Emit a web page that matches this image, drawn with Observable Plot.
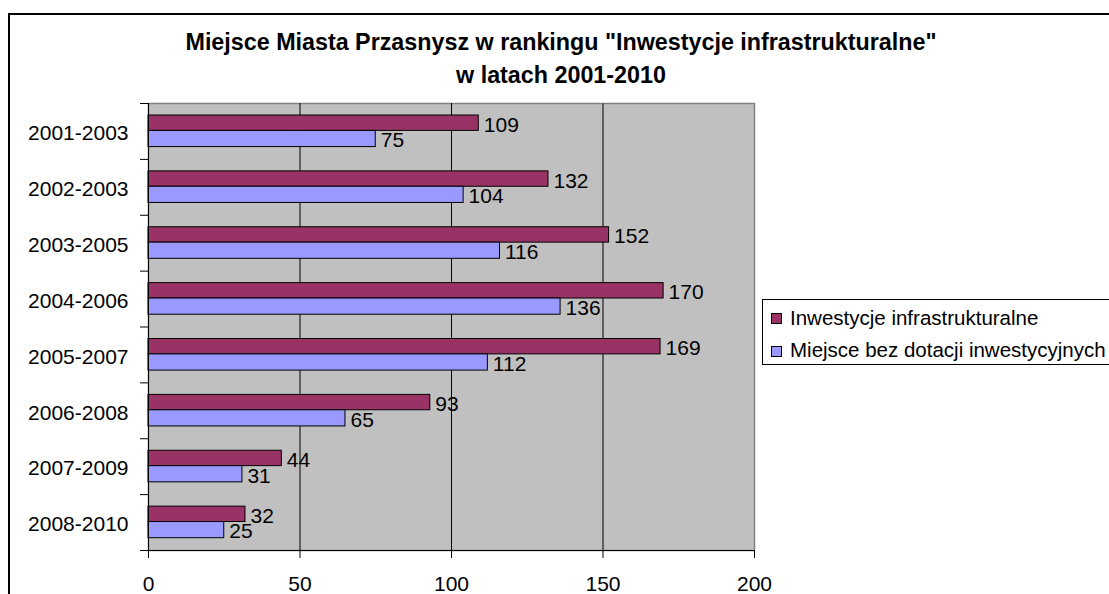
<!DOCTYPE html>
<html><head><meta charset="utf-8">
<script src="https://cdn.jsdelivr.net/npm/d3@7"></script>
<script src="https://cdn.jsdelivr.net/npm/@observablehq/plot@0.6"></script>
<style>
html,body{margin:0;padding:0;background:#fff;overflow:hidden;}
#wrap{position:relative;width:1109px;height:594px;overflow:hidden;font-family:"Liberation Sans",Arial,sans-serif;color:#000;}
#chart{position:absolute;left:0;top:0;}
#title{position:absolute;left:0;top:25.5px;width:1122px;text-align:center;font-weight:bold;font-size:23.3px;line-height:33px;white-space:nowrap;}
#legend{position:absolute;left:762px;top:299px;width:420px;height:64px;border:1px solid #000;background:#fff;}
.sw{position:absolute;left:7.7px;width:9px;height:9px;border:1px solid #000;}
.lt{position:absolute;left:27px;font-size:20.5px;line-height:21px;white-space:nowrap;}
#bl{position:absolute;left:8px;top:13px;width:2px;height:600px;background:#000;}
#bt{position:absolute;left:8px;top:13px;width:1200px;height:2px;background:#000;}
</style></head>
<body>
<div id="wrap">
  <div id="bl"></div>
  <div id="bt"></div>
  <div id="chart"></div>
  <div id="title">Miejsce Miasta Przasnysz w rankingu "Inwestycje infrastrukturalne"<br>w latach 2001-2010</div>
  <div id="legend"></div>
</div>
<script>
const categories = ["2001-2003","2002-2003","2003-2005","2004-2006","2005-2007","2006-2008","2007-2009","2008-2010"];
const infraValues = [109,132,152,170,169,93,44,32];
const bezDotacjiValues = [75,104,116,136,112,65,31,25];
const seriesNames = ["Inwestycje infrastrukturalne","Miejsce bez dotacji inwestycyjnych"];
const seriesColors = ["#993366","#9999ff"];
const xTicks = [0,50,100,150,200];
const gridBlack = [50,100];
const gridGray = [150];

const data = categories.map((c,i)=>({cat:c, infra:infraValues[i], bez:bezDotacjiValues[i]}));

const H = 594, mTop = 103, mBottom = 44;
const band = (H - mTop - mBottom) / categories.length;

const chart = Plot.plot({
  width: 1109, height: H,
  marginLeft: 148, marginRight: 355, marginTop: mTop, marginBottom: mBottom,
  style: {fontFamily: '"Liberation Sans", Arial, sans-serif', fontSize: "21px", background: "transparent", color: "#000", overflow: "hidden"},
  x: {domain: [0,200], label: null},
  y: {domain: categories, padding: 0, round: false, label: null},
  marks: [
    Plot.frame({fill: "#c0c0c0", stroke: "#808080", strokeWidth: 1.5}),
    Plot.ruleX(gridBlack, {stroke: "#000"}),
    Plot.ruleX(gridGray, {stroke: "#606060", strokeWidth: 2}),
    Plot.barX(data, {y: "cat", x: "infra", fill: seriesColors[0], stroke: "#000", strokeWidth: 1, insetTop: 12, insetBottom: 28.5}),
    Plot.barX(data, {y: "cat", x: "bez", fill: seriesColors[1], stroke: "#000", strokeWidth: 1, insetTop: 27.4, insetBottom: 12.3}),
    Plot.text(data, {y: "cat", x: "infra", text: d => String(d.infra), textAnchor: "start", dx: 5, dy: -6.5, fontSize: 21, fill: "#000"}),
    Plot.text(data, {y: "cat", x: "bez", text: d => String(d.bez), textAnchor: "start", dx: 5, dy: 9.2, fontSize: 21, fill: "#000"}),
    Plot.ruleX([0], {stroke: "#000"}),
    Plot.ruleY(categories, {y: d => d, x1: 0, x2: 0, insetLeft: -8, dy: -band/2, stroke: "#000"}),
    Plot.ruleY([categories[categories.length-1]], {y: d => d, x1: 0, x2: 200, insetLeft: -8, dy: band/2, stroke: "#000"}),
    Plot.axisY({tickSize: 0, tickPadding: 20, fontSize: 21, label: null, dy: 2}),
    Plot.axisX({ticks: xTicks, tickSize: 8, tickPadding: 18, fontSize: 21, label: null})
  ]
});
document.getElementById("chart").appendChild(chart);

const legend = document.getElementById("legend");
const swTops = [12.7, 46];
const txtTops = [7.2, 39.2];
seriesNames.forEach((name, i) => {
  const sw = document.createElement("div");
  sw.className = "sw"; sw.style.top = swTops[i] + "px"; sw.style.background = seriesColors[i];
  legend.appendChild(sw);
  const t = document.createElement("div");
  t.className = "lt"; t.style.top = txtTops[i] + "px"; t.textContent = name;
  legend.appendChild(t);
});
</script>
</body></html>
